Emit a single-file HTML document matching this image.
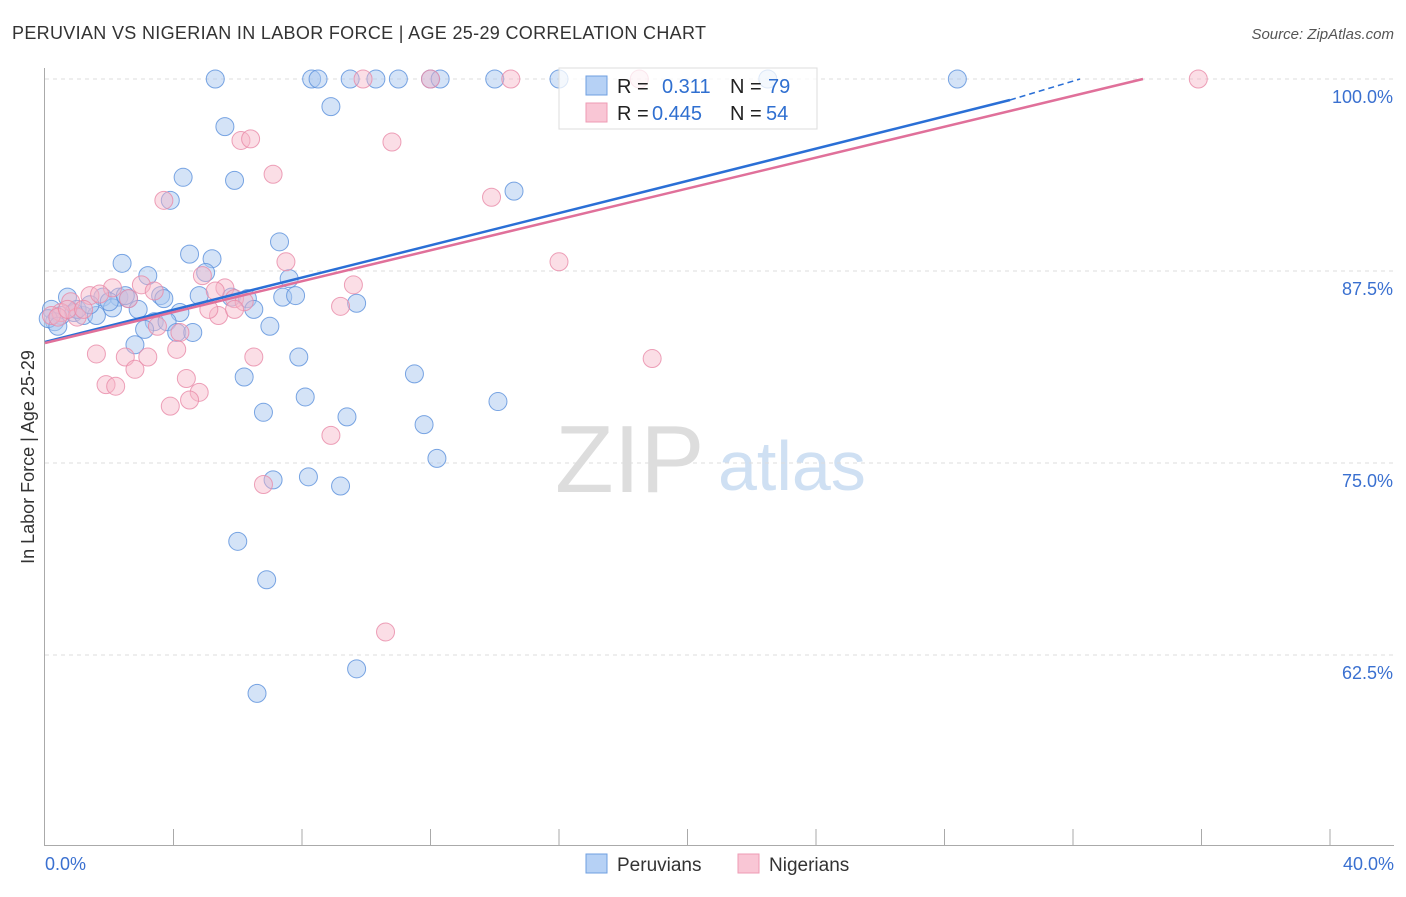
<!DOCTYPE html>
<html><head><meta charset="utf-8"><style>
body{margin:0;background:#fff;font-family:"Liberation Sans",sans-serif;}
svg text{font-family:"Liberation Sans",sans-serif;}
</style></head><body>
<svg id="chart" width="1406" height="892">
<text x="12" y="39" font-size="18" fill="#333" textLength="694">PERUVIAN VS NIGERIAN IN LABOR FORCE | AGE 25-29 CORRELATION CHART</text>
<text x="1394" y="39" font-size="15" fill="#555" font-style="italic" text-anchor="end">Source: ZipAtlas.com</text>
<text x="555" y="492" font-size="96" fill="#ddd" font-family="Liberation Serif">ZIP</text>
<text x="718" y="490" font-size="70" fill="#cfe0f3">atlas</text>
<g id="grid"></g>
<g id="axes"></g>
<g id="pts"></g>
<g id="lines"></g>
<text transform="translate(34,457) rotate(-90)" font-size="18" fill="#333" text-anchor="middle">In Labor Force | Age 25-29</text>
<g>
<rect x="559" y="68" width="258" height="61" fill="#fff" fill-opacity="0.75" stroke="#ddd"/>
<rect x="586" y="76" width="21" height="19" fill="#b6d1f5" stroke="#6f9fe0"/>
<rect x="586" y="103" width="21" height="19" fill="#f9c6d5" stroke="#ee9bb4"/>
<text x="617" y="93" font-size="20" fill="#222">R = </text><text x="662" y="93" font-size="20" fill="#2f6fd0">0.311</text>
<text x="730" y="93" font-size="20" fill="#222">N = </text><text x="768" y="93" font-size="20" fill="#2f6fd0">79</text>
<text x="617" y="120" font-size="20" fill="#222">R = </text><text x="652" y="120" font-size="20" fill="#2f6fd0">0.445</text>
<text x="730" y="120" font-size="20" fill="#222">N = </text><text x="766" y="120" font-size="20" fill="#2f6fd0">54</text>
</g>
<g>
<rect x="586" y="854" width="21" height="19" fill="#b6d1f5" stroke="#6f9fe0"/>
<text x="617" y="871" font-size="19" fill="#333">Peruvians</text>
<rect x="738" y="854" width="21" height="19" fill="#f9c6d5" stroke="#ee9bb4"/>
<text x="769" y="871" font-size="19" fill="#333">Nigerians</text>
</g>
</svg>
<script>
const yTicks=[100,87.5,75,62.5];
const yTickLabels=["100.0%","87.5%","75.0%","62.5%"];
const xTickLabels=["0.0%","40.0%"];
const perX=[5.3,8.3,8.5,9.5,10.3,11.0,12.0,12.3,14.0,16.0,22.5,28.4,8.9,5.6,4.3,5.9,3.9,14.6,7.3,2.4,4.5,5.2,3.2,5.0,7.6,0.7,1.8,2.3,2.6,3.6,3.7,4.8,5.8,6.3,7.4,7.8,9.7,0.2,0.5,0.9,1.2,1.6,2.1,2.9,4.2,6.5,3.4,3.8,3.1,4.1,4.6,7.0,2.8,7.9,6.2,11.5,8.1,14.1,6.8,9.4,11.8,12.2,7.1,8.2,9.2,6.0,6.9,9.7,6.6,0.3,0.1,1.0,1.4,2.0,2.5,0.4];
const perY=[100,100,100,100,100,100,100,100,100,100,100,100,98.2,96.9,93.6,93.4,92.1,92.7,89.4,88.0,88.6,88.3,87.2,87.4,87.0,85.8,85.8,85.8,85.7,85.9,85.7,85.9,85.8,85.7,85.8,85.9,85.4,85.0,84.6,84.8,84.6,84.6,85.1,85.0,84.8,85.0,84.2,84.2,83.7,83.5,83.5,83.9,82.7,81.9,80.6,80.8,79.3,79.0,78.3,78.0,77.5,75.3,73.9,74.1,73.5,69.9,67.4,61.6,60.0,84.2,84.4,85.0,85.3,85.5,85.9,83.9];
const nigX=[9.9,12.0,14.5,18.5,35.9,6.1,6.4,10.8,7.1,13.9,3.7,16.0,4.9,7.5,3.0,2.1,5.6,5.3,9.6,1.4,1.7,2.6,3.4,5.9,6.2,9.2,0.8,0.5,1.0,0.2,5.4,5.1,5.9,3.5,4.2,4.1,1.6,2.5,3.2,6.5,18.9,2.8,4.4,1.9,2.2,4.8,4.5,3.9,8.9,6.8,10.6,0.4,0.7,1.2];
const nigY=[100,100,100,100,100,96.0,96.1,95.9,93.8,92.3,92.1,88.1,87.2,88.1,86.6,86.4,86.4,86.2,86.6,85.9,86.0,85.7,86.2,85.7,85.5,85.2,85.5,84.8,84.5,84.6,84.6,85.0,85.0,83.9,83.5,82.4,82.1,81.9,81.9,81.9,81.8,81.1,80.5,80.1,80.0,79.6,79.1,78.7,76.8,73.6,64.0,84.5,85.0,85.0];
const X=v=>45+v*32.125, Y=v=>79+(100-v)*15.36;
const NS="http://www.w3.org/2000/svg";
function mk(tag,attrs,parent){const e=document.createElementNS(NS,tag);for(const k in attrs)e.setAttribute(k,attrs[k]);document.getElementById(parent).appendChild(e);return e;}
yTicks.forEach((t,i)=>{
 const g=mk('line',{x1:45,x2:1394,y1:Y(t),y2:Y(t),stroke:'#ddd','stroke-dasharray':'4,4'},'grid');
 
 
 const l=mk('text',{x:1393,y:Y(t)+24,'font-size':18,fill:'#3a70d0','text-anchor':'end'},'grid');
 l.textContent=yTickLabels[i];
 
 
});
const ax=mk('line',{x1:44.5,x2:44.5,y1:68,y2:846,stroke:'#aaa'},'axes');


const bx=mk('line',{x1:45,x2:1394,y1:845.5,y2:845.5,stroke:'#aaa'},'axes');


for(let i=1;i<=10;i++){const t=mk('line',{x1:X(i*4),x2:X(i*4),y1:829,y2:846,stroke:'#aaa'},'axes');
 
 }
[[0,'start',45],[40,'end',1394]].forEach((d,i)=>{const t=mk('text',{x:d[2],y:870,'font-size':18,fill:'#3a70d0','text-anchor':d[1]},'axes');t.textContent=xTickLabels[i];
 
 });
perX.forEach((v,i)=>{const c=mk('circle',{cx:X(v),cy:Y(perY[i]),r:9,fill:'#a9c8f0','fill-opacity':0.5,stroke:'#5a90dc','stroke-opacity':0.8},'pts');
 
 });
nigX.forEach((v,i)=>{const c=mk('circle',{cx:X(v),cy:Y(nigY[i]),r:9,fill:'#f6b5c8','fill-opacity':0.45,stroke:'#e88aa8','stroke-opacity':0.8},'pts');
 
 });
const l1=mk('line',{x1:45,y1:342,x2:1010,y2:100,stroke:'#2a6fd6','stroke-width':2.5},'lines');


const l1d=mk('line',{x1:1010,y1:100,x2:1080,y2:79,stroke:'#2a6fd6','stroke-width':1.5,'stroke-dasharray':'6,4'},'lines');


const l2=mk('line',{x1:45,y1:343,x2:1143,y2:79,stroke:'#e0709a','stroke-width':2.5},'lines');


</script>
</body></html>
